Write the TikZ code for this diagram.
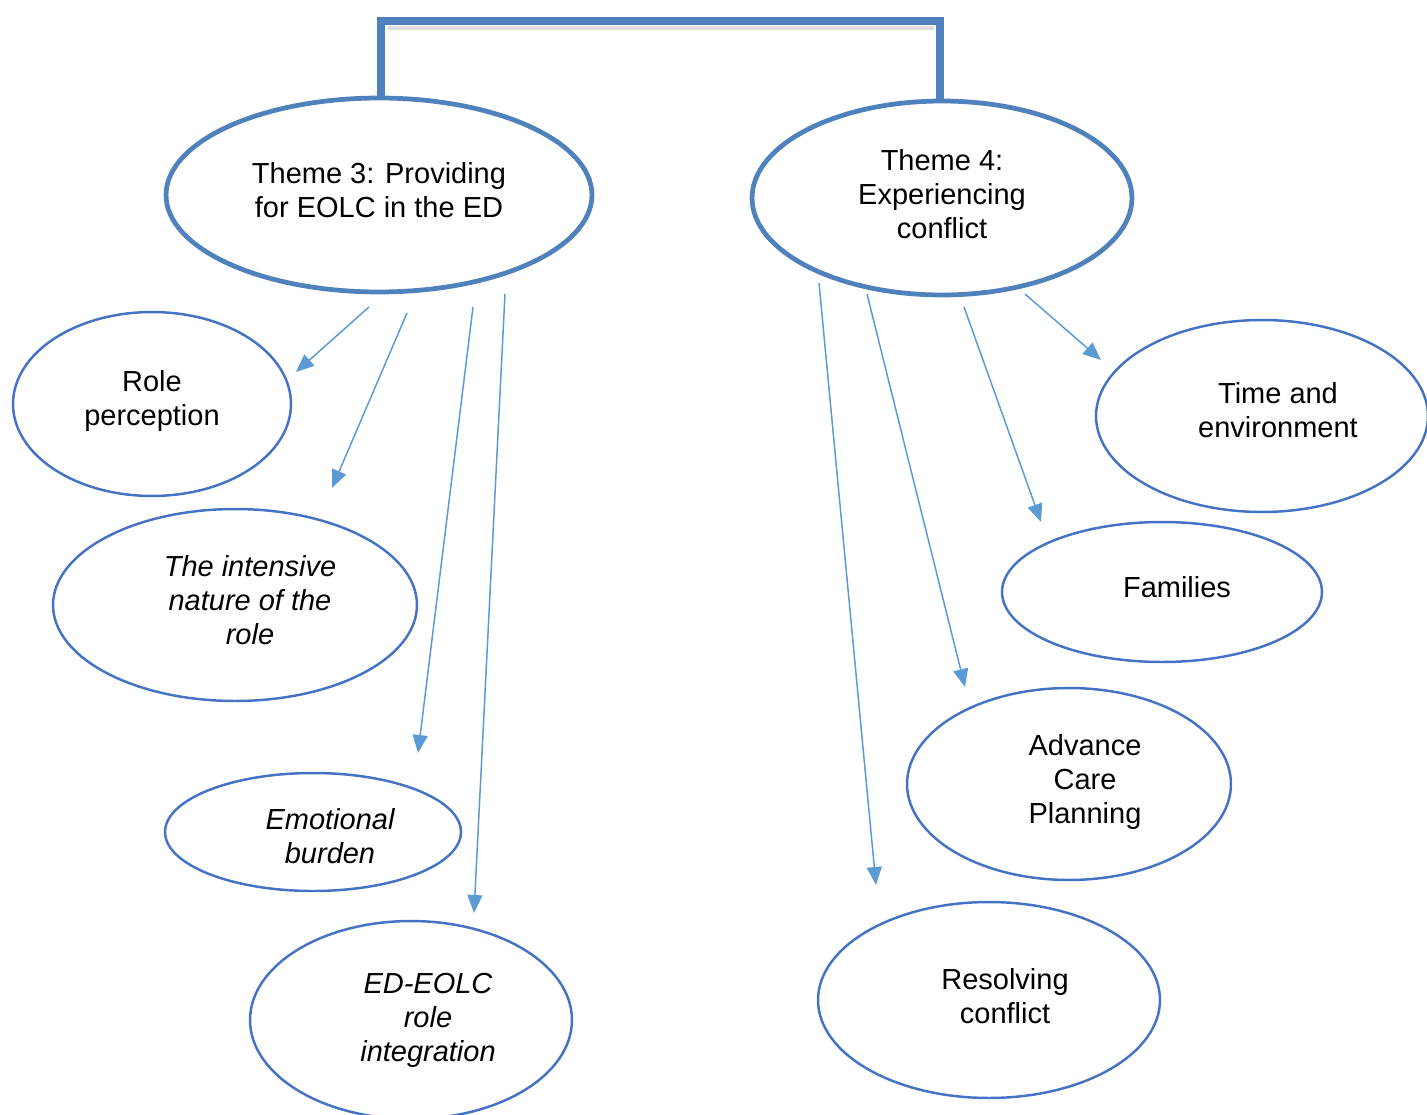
\documentclass[tikz,border=0pt]{standalone}
\usepackage{fontspec}
\setmainfont{Liberation Sans}
\usetikzlibrary{shapes.geometric,arrows.meta}
\definecolor{themeblue}{HTML}{4F81BD}
\definecolor{subblue}{HTML}{4472C4}
\definecolor{arrowblue}{HTML}{5B9BD5}
\tikzset{
  theme/.style={ellipse,draw=themeblue,line width=2.7pt,inner sep=0pt},
  sub/.style={ellipse,draw=subblue,line width=1.4pt,inner sep=0pt},
  lbl/.style={align=center,inner sep=0pt,font=\fontsize{16.5}{19.3}\selectfont},
  ilbl/.style={lbl,font=\fontsize{16.5}{19.3}\selectfont\itshape},
  link/.style={draw=arrowblue,line width=0.85pt,
    -{Triangle[length=0.36cm,width=0.3cm,fill=arrowblue]}},
  bracket/.style={draw=themeblue,line width=4pt},
}
\begin{document}
\begin{tikzpicture}[x=0.02cm,y=-0.02cm]
\useasboundingbox (0,0) rectangle (1427,1115);

% theme ellipses
\node[theme,minimum width=8.52cm,minimum height=3.88cm] (t3) at (379,195) {};
\node[theme,minimum width=7.6cm,minimum height=3.88cm] (t4) at (942,198) {};
\node[lbl] (t3txt) at (379,190) {Theme 3: Providing\\for EOLC in the ED};
\node[lbl] (t4txt) at (942,194) {Theme 4:\\Experiencing\\conflict};

% bracket joining the two themes, with a faint shadow under the top bar
\coordinate (bar) at (660,21);
\draw[draw=gray!25,line width=2.5pt] (388,28) -- (934,28);
\draw[bracket] (381,98) |- (bar) -| (940,100);

% sub-themes of theme 3
\node[sub,minimum width=5.56cm,minimum height=3.68cm] (rp) at (152,404) {};
\node[lbl] at (152,401) {Role\\perception};
\node[sub,minimum width=7.28cm,minimum height=3.84cm] (in) at (235,605) {};
\node[ilbl] at (250,600) {The intensive\\nature of the\\role};
\node[sub,minimum width=5.92cm,minimum height=2.36cm] (eb) at (313,832) {};
\node[ilbl] at (330,836) {Emotional\\burden};
\node[sub,minimum width=6.44cm,minimum height=3.96cm] (ed) at (411,1020) {};
\node[ilbl] at (428,1020) {ED-EOLC\\role\\integration};

% sub-themes of theme 4
\node[sub,minimum width=6.64cm,minimum height=3.84cm] (te) at (1262,416) {};
\node[lbl] at (1278,410) {Time and\\environment};
\node[sub,minimum width=6.4cm,minimum height=2.8cm] (fa) at (1162,592) {};
\node[lbl] at (1177,587) {Families};
\node[sub,minimum width=6.48cm,minimum height=3.84cm] (acp) at (1069,784) {};
\node[lbl] at (1085,782) {Advance\\Care\\Planning};
\node[sub,minimum width=6.84cm,minimum height=3.92cm] (rc) at (989,1000) {};
\node[lbl] at (1005,996) {Resolving\\conflict};

% arrow end points
\coordinate (a1s) at (369,307); \coordinate (a1e) at (296,372);
\coordinate (a2s) at (407,313); \coordinate (a2e) at (332,488);
\coordinate (a3s) at (473,307); \coordinate (a3e) at (418,753);
\coordinate (a4s) at (505,294); \coordinate (a4e) at (474,913);
\coordinate (b1s) at (1025,294); \coordinate (b1e) at (1101,360);
\coordinate (b2s) at (964,307); \coordinate (b2e) at (1041,522);
\coordinate (b3s) at (867,294); \coordinate (b3e) at (965,687);
\coordinate (b4s) at (819,283); \coordinate (b4e) at (876,885);

\draw[link] (a1s) -- (a1e);
\draw[link] (a2s) -- (a2e);
\draw[link] (a3s) -- (a3e);
\draw[link] (a4s) -- (a4e);
\draw[link] (b1s) -- (b1e);
\draw[link] (b2s) -- (b2e);
\draw[link] (b3s) -- (b3e);
\draw[link] (b4s) -- (b4e);
\end{tikzpicture}
\end{document}
